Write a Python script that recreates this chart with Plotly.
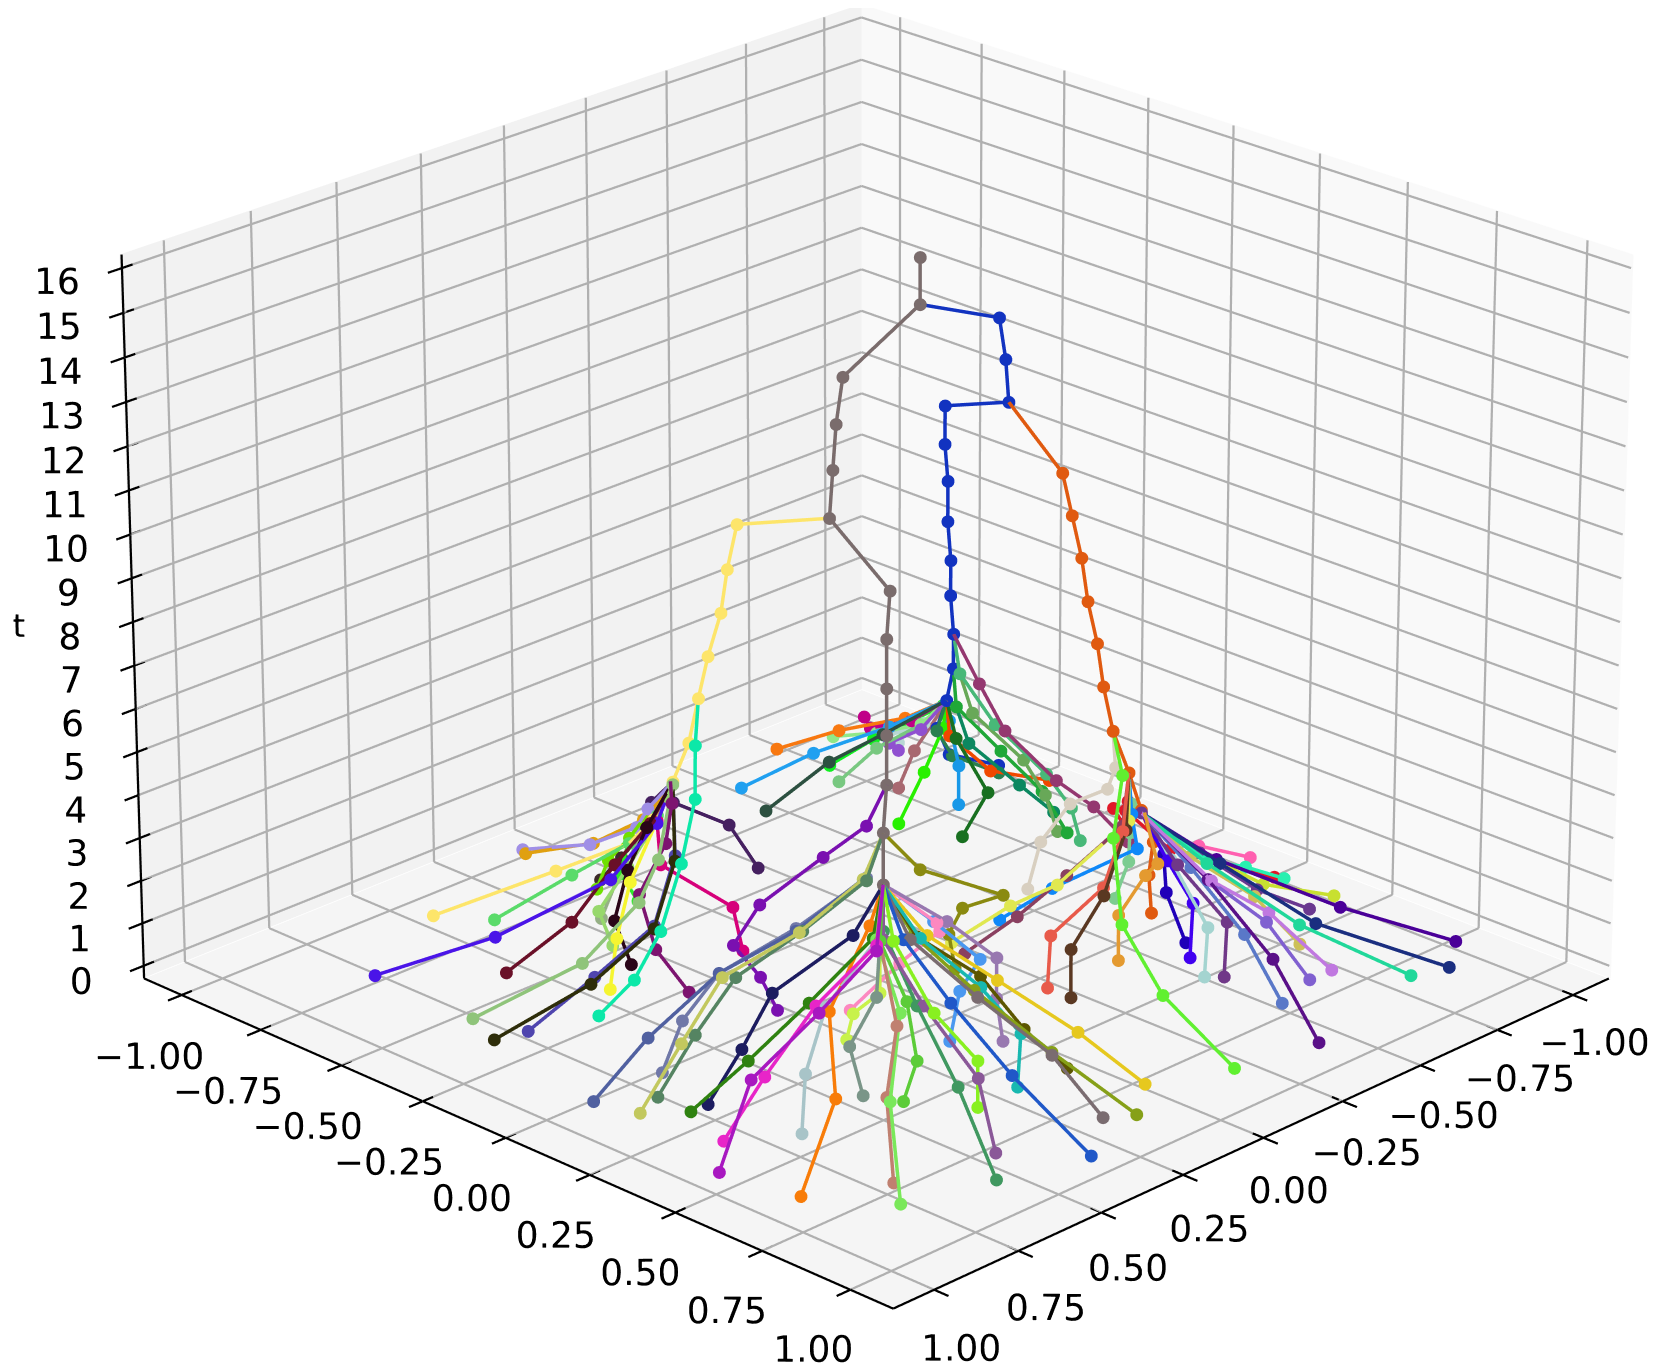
"""Merge tree of 3D trajectories, drawn in a matplotlib-like box."""

import numpy as np
import plotly.graph_objects as go

# start level of each branch; t goes up by one per point
branch_t0 = [4] + [0] * 21 + [3] + [0] * 77

# (x, y) per point
branch_xy = [
    [(0.32,0.34),(0.29,0.31),(0.27,0.30),(0.25,0.28),(0.24,0.27),(0.22,0.25),(0.20,0.24),(0.18,0.04),(0.16,0.03),(0.15,0.03),(0.13,0.03),(-0.10,0.03),(-0.11,0.02)],
    [(-0.96,-0.57),(-0.76,-0.53),(-0.68,-0.49),(-0.64,-0.42),(-0.61,-0.37),(-0.58,-0.34),(-0.56,-0.33),(-0.53,-0.30),(-0.51,-0.29),(-0.50,-0.28),(-0.47,-0.26),(-0.45,-0.24),(-0.38,0.02),(-0.37,0.02),(-0.35,0.02),(-0.10,0.03)],
    [(-0.62,0.23),(-0.60,0.24),(-0.57,0.28),(-0.51,0.30),(-0.47,0.30),(-0.44,0.28),(-0.43,0.26),(-0.42,0.25),(-0.40,0.24),(-0.39,0.23),(-0.37,0.22),(-0.35,0.21),(-0.38,0.02)],
    [(0.50,-0.87),(0.30,-0.69),(0.24,-0.52),(0.27,-0.41),(0.26,-0.36),(0.25,-0.32),(0.23,-0.31),(0.22,-0.29),(0.20,-0.27),(0.19,-0.26),(0.17,-0.25),(0.18,0.04)],
    [(0.12,-0.99),(0.15,-0.74),(0.17,-0.57),(0.24,-0.46),(0.26,-0.36)],
    [(0.13,-0.97),(0.14,-0.74),(0.13,-0.59),(0.21,-0.46),(0.26,-0.36)],
    [(0.42,-0.76),(0.29,-0.65),(0.24,-0.52),(0.25,-0.42),(0.26,-0.36)],
    [(0.80,-0.73),(0.63,-0.53),(0.40,-0.41),(0.28,-0.39),(0.26,-0.36)],
    [(0.59,-0.54),(0.46,-0.47),(0.34,-0.46),(0.29,-0.40),(0.26,-0.36)],
    [(0.84,-0.31),(0.65,-0.21),(0.51,-0.16),(0.39,-0.22),(0.26,-0.36)],
    [(0.76,-0.29),(0.62,-0.23),(0.50,-0.17),(0.37,-0.24),(0.26,-0.36)],
    [(0.60,-0.24),(0.57,-0.16),(0.51,-0.14),(0.39,-0.20),(0.29,-0.26),(0.25,-0.30),(0.23,-0.31)],
    [(0.49,-0.32),(0.45,-0.34),(0.38,-0.37),(0.27,-0.40),(0.26,-0.36)],
    [(0.80,-0.42),(0.59,-0.30),(0.44,-0.28),(0.41,-0.25),(0.27,-0.35)],
    [(0.33,-0.48),(0.38,-0.47),(0.33,-0.43),(0.27,-0.40),(0.27,-0.35)],
    [(0.25,-0.60),(0.20,-0.59),(0.14,-0.56),(0.10,-0.53)],
    [(0.13,-0.61),(0.21,-0.58),(0.22,-0.54),(0.10,-0.53)],
    [(0.15,-0.72),(0.18,-0.65),(0.22,-0.54),(0.10,-0.53)],
    [(0.37,-0.38),(0.39,-0.41),(0.34,-0.42),(0.31,-0.39),(0.26,-0.36)],
    [(0.11,-0.75),(0.15,-0.64),(0.16,-0.55),(0.10,-0.53)],
    [(0.38,-0.19),(0.43,-0.24),(0.41,-0.31),(0.34,-0.30),(0.34,-0.28),(0.42,-0.20)],
    [(-0.18,-0.55),(-0.14,-0.60),(0.02,-0.61),(0.10,-0.53)],
    [(0.21,-0.48),(0.26,-0.36)],
    [(0.15,-0.26),(0.16,-0.28),(0.27,-0.39),(0.27,-0.40),(0.26,-0.36)],
    [(0.31,0.01),(0.37,0.02),(0.45,0.02),(0.42,0.07),(0.31,0.15),(0.29,0.26),(0.27,0.30)],
    [(0.70,0.06),(0.64,0.06),(0.57,0.10),(0.45,0.21),(0.32,0.29),(0.29,0.31)],
    [(0.90,0.06),(0.75,0.07),(0.57,0.10),(0.46,0.22),(0.33,0.29),(0.29,0.31)],
    [(0.87,0.17),(0.72,0.14),(0.58,0.12),(0.46,0.23),(0.33,0.29),(0.29,0.31)],
    [(0.79,0.14),(0.67,0.13),(0.56,0.14),(0.45,0.23),(0.33,0.30),(0.29,0.31)],
    [(0.74,0.24),(0.65,0.25),(0.56,0.25),(0.39,0.32),(0.32,0.34)],
    [(0.79,0.24),(0.68,0.30),(0.54,0.34),(0.37,0.36),(0.32,0.34)],
    [(0.84,0.39),(0.71,0.38),(0.54,0.36),(0.39,0.39),(0.32,0.34)],
    [(0.95,0.49),(0.74,0.37),(0.56,0.39),(0.41,0.41),(0.32,0.34)],
    [(0.70,0.48),(0.64,0.43),(0.53,0.38),(0.35,0.36),(0.32,0.34)],
    [(0.91,0.69),(0.68,0.56),(0.54,0.40),(0.33,0.31),(0.32,0.34)],
    [(0.48,0.44),(0.48,0.40),(0.42,0.42),(0.37,0.38),(0.32,0.34)],
    [(0.31,0.22),(0.36,0.29),(0.40,0.41),(0.36,0.37),(0.32,0.34)],
    [(0.20,0.12),(0.11,0.18),(0.09,0.28),(0.22,0.40),(0.32,0.34)],
    [(0.79,0.86),(0.61,0.65),(0.44,0.51),(0.37,0.37),(0.32,0.34)],
    [(0.73,0.78),(0.60,0.63),(0.49,0.55),(0.37,0.38),(0.32,0.34)],
    [(0.44,0.52),(0.43,0.55),(0.39,0.48),(0.37,0.38),(0.32,0.34)],
    [(0.57,0.92),(0.46,0.70),(0.39,0.51),(0.33,0.35),(0.32,0.34)],
    [(0.48,0.83),(0.40,0.70),(0.38,0.52),(0.36,0.38),(0.32,0.34)],
    [(0.35,0.65),(0.34,0.64),(0.39,0.56),(0.35,0.40),(0.32,0.34)],
    [(0.35,0.98),(0.34,0.74),(0.33,0.55),(0.33,0.41),(0.32,0.34)],
    [(0.22,0.64),(0.18,0.61),(0.23,0.54),(0.30,0.43),(0.32,0.34)],
    [(0.20,0.87),(0.21,0.73),(0.27,0.57),(0.32,0.42),(0.32,0.34)],
    [(0.02,0.82),(0.09,0.69),(0.18,0.54),(0.28,0.43),(0.32,0.34)],
    [(0.08,0.65),(0.16,0.60),(0.19,0.50),(0.30,0.42),(0.32,0.34)],
    [(0.14,0.91),(0.20,0.72),(0.25,0.54),(0.30,0.41),(0.32,0.34)],
    [(-0.11,0.13),(-0.07,0.15),(-0.03,0.23),(0.02,0.40),(0.21,0.34),(0.29,0.31)],
    [(0.16,0.38),(0.12,0.37),(0.13,0.44),(0.22,0.39),(0.32,0.34)],
    [(0.08,0.46),(0.09,0.45),(0.10,0.46),(0.20,0.41),(0.32,0.34)],
    [(-0.36,0.02),(-0.40,0.14),(-0.52,0.28),(-0.48,0.30),(-0.47,0.30)],
    [(-0.20,0.03),(-0.27,0.14),(-0.26,0.29),(-0.45,0.32),(-0.47,0.30)],
    [(-0.18,0.09),(-0.24,0.19),(-0.31,0.27),(-0.42,0.33),(-0.47,0.30)],
    [(-0.18,0.34),(-0.22,0.31),(-0.32,0.37),(-0.40,0.35),(-0.47,0.30)],
    [(-0.18,0.41),(-0.20,0.39),(-0.29,0.40),(-0.41,0.35),(-0.47,0.30)],
    [(-0.39,0.35),(-0.40,0.34),(-0.43,0.39),(-0.33,0.52),(-0.34,0.47)],
    [(-0.62,0.12),(-0.62,0.16),(-0.57,0.21),(-0.52,0.26),(-0.47,0.30)],
    [(-0.17,0.90),(-0.17,0.69),(-0.21,0.53),(-0.36,0.36),(-0.45,0.30),(-0.44,0.28)],
    [(-0.52,-0.05),(-0.56,-0.05),(-0.59,0.01),(-0.54,0.17),(-0.47,0.26),(-0.44,0.28)],
    [(-0.98,0.80),(-0.77,0.65),(-0.60,0.44),(-0.50,0.31)],
    [(-0.87,0.88),(-0.67,0.67),(-0.59,0.46),(-0.50,0.31)],
    [(-0.78,0.85),(-0.64,0.65),(-0.57,0.44),(-0.50,0.31)],
    [(-0.73,0.57),(-0.68,0.48),(-0.57,0.39),(-0.50,0.31)],
    [(-0.68,0.71),(-0.64,0.56),(-0.51,0.51),(-0.50,0.31)],
    [(-0.61,0.71),(-0.60,0.59),(-0.51,0.50),(-0.50,0.31)],
    [(-0.39,0.94),(-0.47,0.73),(-0.51,0.50),(-0.50,0.31)],
    [(-0.48,0.75),(-0.52,0.60),(-0.53,0.43),(-0.50,0.31)],
    [(-0.49,0.57),(-0.54,0.53),(-0.52,0.40),(-0.50,0.31)],
    [(-0.46,0.54),(-0.49,0.52),(-0.53,0.37),(-0.50,0.31)],
    [(-0.51,0.45),(-0.56,0.41),(-0.52,0.37),(-0.50,0.31)],
    [(-0.56,0.39),(-0.56,0.33),(-0.54,0.34),(-0.50,0.31)],
    [(-0.99,0.18),(-0.79,0.21),(-0.61,0.31),(-0.50,0.31)],
    [(-0.96,0.31),(-0.78,0.36),(-0.58,0.43),(-0.50,0.31)],
    [(-0.95,0.29),(-0.73,0.18),(-0.65,0.12),(-0.50,0.31)],
    [(-0.97,-0.22),(-0.74,0.04),(-0.69,0.09),(-0.50,0.31)],
    [(-0.97,0.45),(-0.74,0.45),(-0.60,0.39),(-0.50,0.31)],
    [(-0.88,0.46),(-0.71,0.46),(-0.60,0.39),(-0.50,0.31)],
    [(-0.67,-0.99),(-0.68,-0.80),(-0.67,-0.58),(-0.64,-0.42)],
    [(-0.46,-0.89),(-0.55,-0.75),(-0.61,-0.57),(-0.64,-0.42)],
    [(-0.41,-0.76),(-0.54,-0.69),(-0.57,-0.55),(-0.64,-0.42)],
    [(-0.69,-0.84),(-0.70,-0.71),(-0.78,-0.57),(-0.64,-0.42)],
    [(-0.81,-0.95),(-0.73,-0.73),(-0.67,-0.53),(-0.64,-0.42)],
    [(-0.64,-0.76),(-0.67,-0.67),(-0.68,-0.53),(-0.64,-0.42)],
    [(-0.94,-0.98),(-0.74,-0.76),(-0.67,-0.56),(-0.64,-0.42)],
    [(-0.89,-0.82),(-0.73,-0.70),(-0.68,-0.53),(-0.64,-0.42)],
    [(-0.86,-0.79),(-0.71,-0.67),(-0.65,-0.51),(-0.64,-0.42)],
    [(-0.71,-0.64),(-0.72,-0.60),(-0.77,-0.56),(-0.64,-0.42)],
    [(-0.57,-0.50),(-0.65,-0.50),(-0.69,-0.48),(-0.64,-0.42)],
    [(-0.74,-0.48),(-0.73,-0.47),(-0.73,-0.50),(-0.64,-0.42)],
    [(-0.62,-0.35),(-0.67,-0.32),(-0.67,-0.42),(-0.64,-0.42)],
    [(-0.98,-0.43),(-0.76,-0.40),(-0.67,-0.44),(-0.64,-0.42)],
    [(-0.93,-0.54),(-0.76,-0.52),(-0.67,-0.48),(-0.64,-0.42)],
    [(-0.86,-0.30),(-0.75,-0.30),(-0.67,-0.38),(-0.63,-0.38),(-0.61,-0.37)],
    [(-0.79,-0.22),(-0.75,-0.22),(-0.69,-0.23),(-0.63,-0.33),(-0.60,-0.34),(-0.58,-0.34)],
    [(-0.79,-0.15),(-0.74,-0.13),(-0.67,-0.14),(-0.62,-0.25),(-0.60,-0.34),(-0.58,-0.34)],
    [(-0.86,-0.07),(-0.78,-0.10),(-0.66,-0.10),(-0.61,-0.21),(-0.59,-0.27),(-0.58,-0.34)],
    [(-0.80,-0.20),(-0.76,-0.24),(-0.69,-0.30),(-0.63,-0.38),(-0.61,-0.37)],
]

branch_colors = [
    "#7a6c6c", "#1233c0", "#e05a10", "#fde56a", "#a08fe6", "#e0a010", "#5adb6a", "#4a14e8", "#6a1028", "#2e2d0a",
    "#4f45ae", "#0ce8a8", "#f5f530", "#8fc47a", "#97d86c", "#95b085", "#2ee82a", "#70e000", "#2a0518", "#3d2a2a",
    "#7d1470", "#452060", "#452060", "#d6007a", "#7a10b0", "#7078a8", "#5060a0", "#c2c85e", "#558462", "#1c1c60",
    "#2f8210", "#e825c8", "#a818c0", "#a8c4c8", "#f87c08", "#7a9588", "#c8f24a", "#fc88c0", "#7ae85a", "#c08070",
    "#5ccc38", "#409860", "#8a5898", "#88f020", "#2058c8", "#18b8b0", "#7a6c70", "#e6c81e", "#5c5600", "#86a018",
    "#8a8a10", "#4a98f0", "#9878b0", "#0f88f8", "#e0e850", "#8a4060", "#e85a4a", "#5a3822", "#e49a30", "#7ccc90",
    "#60f030", "#d8cfc0", "#4a0098", "#1a2e80", "#20d89a", "#ccc058", "#c078e0", "#8060d0", "#5a1088", "#5a78c8",
    "#703888", "#a4d4d0", "#4000f0", "#2000b8", "#ff60b0", "#28f0b0", "#e01828", "#e01828", "#c8e030", "#6a3890",
    "#f87810", "#20a0f0", "#2c5040", "#10f020", "#90e888", "#78c880", "#c00088", "#b8d8d4", "#9050d0", "#a86870",
    "#28f000", "#1898e8", "#187020", "#f04800", "#2a8050", "#0c8860", "#68a858", "#48b878", "#943870", "#20a838",
]

axis_ticks = [-1.0, -0.75, -0.5, -0.25, 0.0, 0.25, 0.5, 0.75, 1.0]
t_ticks = list(range(17))

# branches whose end node keeps its own dot: the trunk top and two hub nodes
KEEP_END = {0, 13, 79}

HALF = 1.12
T0, T1 = -0.3, 16.3
TSCALE = 0.09
VX, VZ = 0.6518, 0.3877
PERSP = 0.0524
BOX_SHEAR = 0.0213


def project(x, y, t):
    """Data to scene coords. Plotly's fov is fixed, so mild perspective is done here and the camera is orthographic."""
    x, y, t = np.asarray(x, float), np.asarray(y, float), np.asarray(t, float)
    X, Y, Z = x / HALF, y / HALF, (t - 8) * TSCALE
    w = 1 - PERSP * (VX * (X + Y) + VZ * Z)
    return X / w, Y / w, Z / w


def project_box(x, y, t):
    """Same for the box, with the small turn of the reference's view."""
    x, y = np.asarray(x, float), np.asarray(y, float)
    d = BOX_SHEAR * (x + y) / 2
    return project(x - d, y + d, t)


def seg_trace(segs, color, width):
    xs, ys, zs = [], [], []
    for a, b in segs:
        px, py, pz = project_box(*zip(a, b))
        xs += list(px) + [None]
        ys += list(py) + [None]
        zs += list(pz) + [None]
    return go.Scatter3d(
        x=xs, y=ys, z=zs, mode="lines", line=dict(color=color, width=width), hoverinfo="skip", showlegend=False
    )


def pane(a, b, c, d, color):
    px, py, pz = project_box(*zip(a, b, c, d))
    return go.Mesh3d(
        x=px, y=py, z=pz, i=[0, 0], j=[1, 2], k=[2, 3], color=color, flatshading=True,
        lighting=dict(ambient=1, diffuse=0, specular=0, fresnel=0), hoverinfo="skip", showscale=False,
    )


def labels(xs, ys, ts, texts, size):
    px, py, pz = project_box(xs, ys, ts)
    return go.Scatter3d(
        x=px, y=py, z=pz, mode="text", text=texts, textposition="middle center",
        textfont=dict(size=size, color="black", family="DejaVu Sans"), hoverinfo="skip", showlegend=False,
    )


fig = go.Figure()
H = HALF + 0.003
fig.add_trace(pane((-H, -H, T0 - 0.02), (H, -H, T0 - 0.02), (H, H, T0 - 0.02), (-H, H, T0 - 0.02), "#f5f5f5"))
fig.add_trace(pane((-H, -H, T0), (H, -H, T0), (H, -H, T1), (-H, -H, T1), "#f2f2f2"))
fig.add_trace(pane((-H, -H, T0), (-H, H, T0), (-H, H, T1), (-H, -H, T1), "#f9f9f9"))

grid = []
for v in axis_ticks:
    grid.append(((v, -HALF, T0), (v, HALF, T0)))
    grid.append(((-HALF, v, T0), (HALF, v, T0)))
    grid.append(((v, -HALF, T0), (v, -HALF, T1)))
    grid.append(((-HALF, v, T0), (-HALF, v, T1)))
for t in t_ticks:
    grid.append(((HALF, -HALF, t), (-HALF, -HALF, t)))
    grid.append(((-HALF, -HALF, t), (-HALF, HALF, t)))
fig.add_trace(seg_trace(grid, "#b0b0b0", 4.5))

axes = [
    ((HALF, -HALF, T0), (HALF, HALF, T0)),
    ((-HALF, HALF, T0), (HALF, HALF, T0)),
    ((HALF, -HALF, T0), (HALF, -HALF, T1)),
]
for v in axis_ticks:
    axes.append(((HALF + 0.04, v, T0), (HALF - 0.03, v, T0)))
    axes.append(((v, HALF + 0.04, T0), (v, HALF - 0.03, T0)))
for t in t_ticks:
    axes.append(((HALF + 0.04, -HALF, t), (HALF - 0.03, -HALF, t)))
fig.add_trace(seg_trace(axes, "black", 4.5))

for n, (t_start, pts, color) in enumerate(zip(branch_t0, branch_xy, branch_colors)):
    ts = [t_start + i for i in range(len(pts))]
    sx, sy, sz = project([p[0] for p in pts], [p[1] for p in pts], ts)
    fig.add_trace(
        go.Scatter3d(x=sx, y=sy, z=sz, mode="lines", line=dict(color=color, width=7), hoverinfo="skip", showlegend=False)
    )
    # the end node of a child branch is drawn by its parent
    m = len(pts) if n in KEEP_END else len(pts) - 1
    fig.add_trace(
        go.Scatter3d(x=sx[:m], y=sy[:m], z=sz[:m], mode="markers", marker=dict(size=7.5, color=color), showlegend=False)
    )

tick_text = [f"{v:.2f}".replace("-", "\u2212") for v in axis_ticks]
fig.add_trace(labels([1.367 - 0.0073 * v for v in axis_ticks], [0.9765 * v + 0.1525 for v in axis_ticks], [T0] * 9, tick_text, 36))
fig.add_trace(labels([v + 0.147 for v in axis_ticks], [1.32 + 0.015 * v for v in axis_ticks], [T0] * 9, tick_text, 36))
fig.add_trace(labels([1.266] * 17, [-1.16] * 17, t_ticks, [str(t) for t in t_ticks], 36))
fig.add_trace(labels([1.32], [-1.26], [8.1], ["t"], 32))

hidden = dict(visible=False, showbackground=False, showgrid=False, zeroline=False, showspikes=False)
fig.update_layout(
    width=1661,
    height=1369,
    margin=dict(l=0, r=0, t=0, b=0),
    paper_bgcolor="white",
    showlegend=False,
    scene=dict(
        domain=dict(x=[0, 1], y=[0, 1]),
        xaxis=dict(hidden, range=[-1.8, 1.8]),
        yaxis=dict(hidden, range=[-1.8, 1.8]),
        zaxis=dict(hidden, range=[-0.9, 0.9]),
        aspectmode="manual",
        aspectratio=dict(x=2.765, y=2.765, z=1.382),
        camera=dict(
            projection=dict(type="orthographic"),
            eye=dict(x=1.697, y=1.6185, z=0.8744),
            center=dict(x=0.0675, y=-0.011, z=-0.0949),
            up=dict(x=0, y=0, z=1),
        ),
    ),
)
fig.write_html("out.html")
